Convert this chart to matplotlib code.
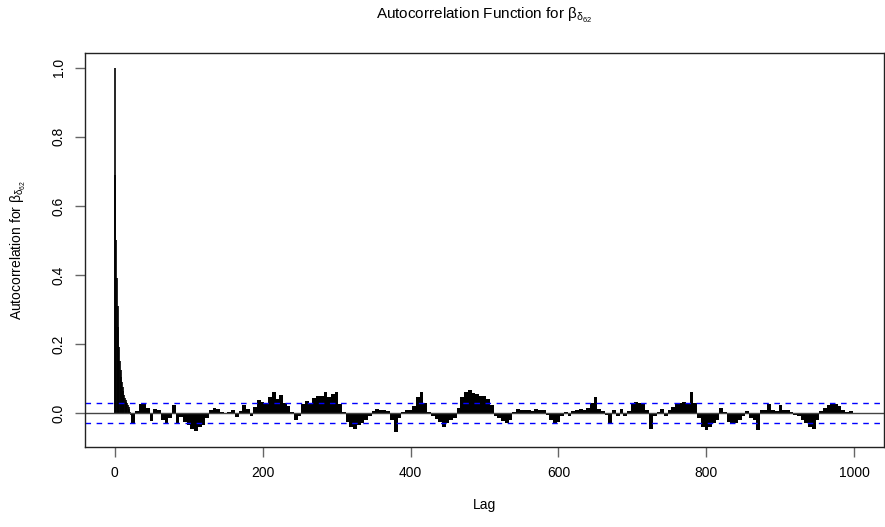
import numpy as np
import matplotlib
matplotlib.use("Agg")
import matplotlib.pyplot as plt

plt.rcParams['font.family'] = ['Liberation Sans', 'DejaVu Sans']
plt.rcParams['mathtext.fontset'] = 'custom'
plt.rcParams['mathtext.rm'] = 'Liberation Sans'
plt.rcParams['mathtext.it'] = 'Liberation Sans'
plt.rcParams['mathtext.bf'] = 'Liberation Sans:bold'

# ---- data: early lags (one value per lag) ----
lags_early = list(range(0, 25))
acf_early = [1.0, 0.69, 0.50, 0.39, 0.31, 0.25, 0.19, 0.15, 0.125, 0.105,
             0.09, 0.075, 0.063, 0.052, 0.044, 0.038, 0.032, 0.028, 0.024, 0.018,
             0.011, 0.004, -0.006, -0.015, -0.025]

# ---- data: later lags (values read every 5 lags) ----
lags_late = list(range(25, 1001, 5))
acf_late = [
    # 25 - 120
    -0.030, 0.005, 0.025, 0.030, 0.015, -0.022, 0.012, 0.010, -0.020, -0.028,
    -0.015, 0.022, -0.028, -0.012, -0.025, -0.035, -0.045, -0.052, -0.040, -0.035,
    # 125 - 220
    -0.015, 0.008, 0.014, 0.012, 0.002, -0.004, 0.004, 0.008, -0.012, 0.005,
    0.022, 0.012, -0.008, 0.018, 0.038, 0.032, 0.030, 0.045, 0.062, 0.040,
    # 225 - 320
    0.052, 0.028, 0.020, 0.002, -0.020, -0.010, 0.025, 0.035, 0.030, 0.042,
    0.048, 0.050, 0.060, 0.045, 0.055, 0.062, 0.025, 0.004, -0.025, -0.040,
    # 325 - 420
    -0.045, -0.035, -0.030, -0.020, -0.008, 0.006, 0.012, 0.008, 0.010, 0.005,
    -0.020, -0.055, -0.015, 0.004, 0.008, 0.010, 0.020, 0.045, 0.060, 0.030,
    # 425 - 520
    0.004, -0.008, -0.018, -0.025, -0.040, -0.028, -0.020, -0.015, 0.015, 0.045,
    0.060, 0.068, 0.058, 0.055, 0.048, 0.050, 0.040, 0.022, -0.008, -0.015,
    # 525 - 620
    -0.022, -0.028, -0.020, 0.003, 0.012, 0.010, 0.008, 0.010, 0.007, 0.012,
    0.008, 0.010, -0.005, -0.020, -0.032, -0.025, -0.008, 0.004, -0.010, 0.006,
    # 625 - 720
    0.010, 0.012, 0.008, 0.015, 0.030, 0.045, 0.012, 0.005, -0.005, -0.028,
    0.008, -0.010, 0.012, -0.008, 0.005, 0.025, 0.032, 0.028, 0.025, 0.010,
    # 725 - 820
    -0.045, -0.008, 0.004, 0.012, -0.008, 0.008, 0.018, 0.030, 0.028, 0.032,
    0.030, 0.062, 0.030, -0.015, -0.040, -0.048, -0.040, -0.030, -0.020, 0.015,
    # 825 - 920
    0.003, -0.025, -0.032, -0.028, -0.020, -0.010, 0.005, -0.015, -0.020, -0.048,
    0.008, 0.010, 0.025, 0.008, 0.006, 0.022, 0.008, 0.010, 0.004, -0.005,
    # 925 - 1000
    -0.010, -0.020, -0.030, -0.040, -0.045, -0.020, 0.005, 0.015, 0.022, 0.025,
    0.025, 0.020, 0.010, 0.004, 0.006, 0.000,
]

ci = 0.0277
x_ticks = [0, 200, 400, 600, 800, 1000]
y_ticks = [0.0, 0.2, 0.4, 0.6, 0.8, 1.0]
y_ticklabels = ["0.0", "0.2", "0.4", "0.6", "0.8", "1.0"]

fig = plt.figure(figsize=(8.85, 5.27), dpi=100)
ax = fig.add_axes([85 / 885, 80 / 527, (884 - 85) / 885, (447 - 53) / 527])

ax.vlines(lags_early, 0, acf_early, colors='black', lw=1.2)
ax.bar(lags_late, acf_late, width=5, color='black', linewidth=0)
ax.axhline(0, color='#444444', lw=1.0)
ax.axhline(ci, color='blue', lw=1.0, ls=(0, (4, 4)))
ax.axhline(-ci, color='blue', lw=1.0, ls=(0, (4, 4)))

ax.set_xlim(-40, 1040)
ax.set_ylim(-0.0986, 1.043)
ax.set_xticks(x_ticks)
ax.set_xticklabels([str(t) for t in x_ticks])
ax.set_yticks(y_ticks)
ax.set_yticklabels(y_ticklabels, rotation=90, va='center')
ax.tick_params(direction='out', length=7, width=1, color='#666666',
               labelsize=10, pad=7)
for s in ax.spines.values():
    s.set_linewidth(1.0)
    s.set_color('#222222')

fig.text(484.5 / 885, 1 - 15 / 527,
         r'Autocorrelation Function for $\beta_{\delta_{62}}$',
         ha='center', va='center', fontsize=11)
fig.text(484.5 / 885, 1 - 505 / 527, 'Lag', ha='center', va='center', fontsize=10)
fig.text(18 / 885, 1 - 250 / 527, r'Autocorrelation for $\beta_{\delta_{62}}$',
         ha='center', va='center', rotation=90, fontsize=10)

fig.savefig('out.png', dpi=100)
